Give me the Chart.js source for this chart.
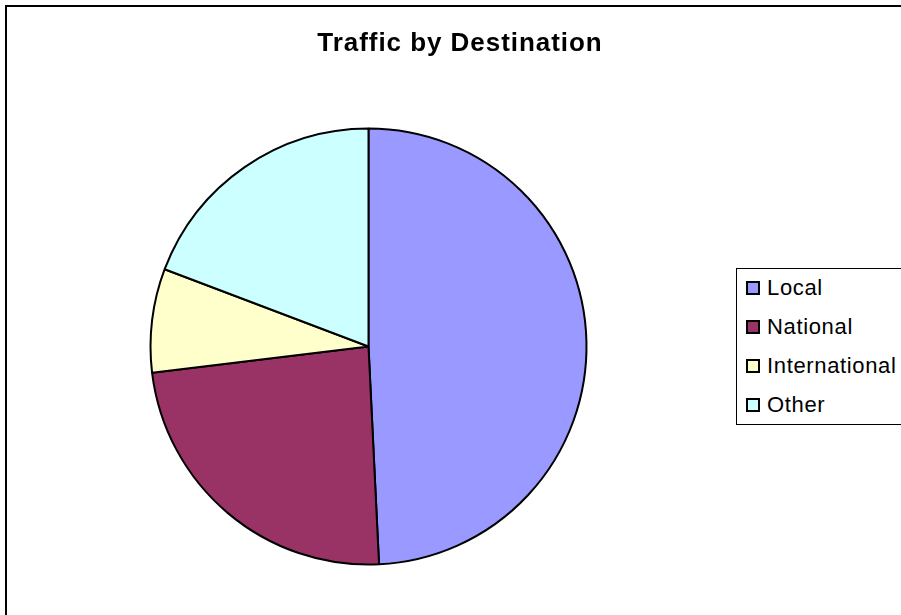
<!DOCTYPE html>
<html><head><meta charset="utf-8">
<script src="https://cdn.jsdelivr.net/npm/chart.js@4.4.1/dist/chart.umd.min.js"></script>
<style>
html,body{margin:0;padding:0;background:#fff;overflow:hidden;width:901px;height:615px;}
#frame{position:absolute;left:5px;top:5px;width:906px;height:640px;border:2px solid #000;}
#wrap{position:absolute;left:7px;top:7px;width:900px;height:620px;}
#title{position:absolute;left:7px;width:906px;top:27px;text-align:center;font:bold 26px "Liberation Sans",Arial,sans-serif;letter-spacing:0.95px;color:#000;white-space:nowrap;}
#legend{position:absolute;left:736px;top:268px;width:200px;height:155px;border:1px solid #000;background:#fff;font:22px "Liberation Sans",Arial,sans-serif;letter-spacing:0.65px;color:#000;}
.item{position:absolute;left:0;height:39px;line-height:39px;white-space:nowrap;width:200px;}
.sw{position:absolute;left:9px;top:13px;width:10px;height:10px;border:2px solid #000;}
.lbl{position:absolute;left:30px;top:0;}
</style>
</head>
<body>
<div id="frame"></div>
<div id="wrap"><canvas id="c"></canvas></div>
<div id="title">Traffic by Destination</div>
<div id="legend"></div>
<script>
const categories = ['Local', 'National', 'International', 'Other'];
const trafficValues = [64, 31, 10, 25];
const sliceColors = ['#9999FF', '#993366', '#FFFFCC', '#CCFFFF'];

const legend = document.getElementById('legend');
categories.forEach((name, i) => {
  const item = document.createElement('div');
  item.className = 'item';
  item.style.top = (39 * i - 1) + 'px';
  const sw = document.createElement('span');
  sw.className = 'sw';
  sw.style.background = sliceColors[i];
  const lbl = document.createElement('span');
  lbl.className = 'lbl';
  lbl.textContent = name;
  item.appendChild(sw);
  item.appendChild(lbl);
  legend.appendChild(item);
});

new Chart(document.getElementById('c'), {
  type: 'pie',
  data: {
    labels: categories,
    datasets: [{
      data: trafficValues,
      backgroundColor: sliceColors,
      borderColor: '#000',
      borderWidth: 2,
      radius: 218
    }]
  },
  options: {
    responsive: true,
    maintainAspectRatio: false,
    animation: false,
    events: [],
    layout: { padding: { left: 0, right: 177, top: 59, bottom: 0 } },
    plugins: {
      legend: { display: false },
      title: { display: false },
      tooltip: { enabled: false }
    }
  }
});
</script>
</body></html>
